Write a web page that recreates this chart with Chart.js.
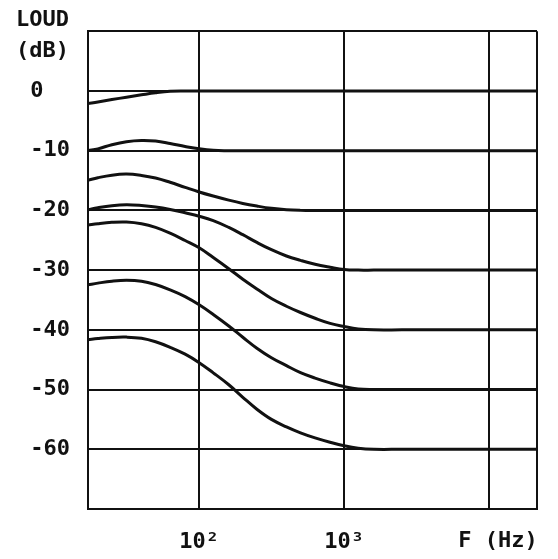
<!DOCTYPE html>
<html>
<head>
<meta charset="utf-8">
<script src="https://cdn.jsdelivr.net/npm/chart.js@4.4.1/dist/chart.umd.min.js"></script>
<style>
html,body{margin:0;padding:0;background:#fff;}
#wrap{width:558px;height:559px;position:relative;}
</style>
</head>
<body>
<div id="wrap"><canvas id="c"></canvas></div>
<script>
// ---- data: frequency (Hz) and loudness (dB) of each curve ----
const FREQ = [17.1, 20, 25, 31.5, 40, 50, 63, 80, 100, 125, 160, 200, 250, 315, 400, 500, 630, 800, 1000, 1250, 1600, 2500, 5000, 10000, 21400];

const L0 = [-2.1, -1.85, -1.45, -1.05, -0.65, -0.3, -0.05, 0, 0, 0, 0, 0, 0, 0, 0, 0, 0, 0, 0, 0, 0, 0, 0, 0, 0];
const L1 = [-10.0, -9.7, -9.0, -8.5, -8.3, -8.4, -8.8, -9.3, -9.7, -9.95, -10, -10, -10, -10, -10, -10, -10, -10, -10, -10, -10, -10, -10, -10, -10];
const L2 = [-14.96, -14.53, -14.1, -13.93, -14.15, -14.58, -15.3, -16.15, -16.92, -17.6, -18.29, -18.84, -19.28, -19.66, -19.91, -20, -20, -20, -20, -20, -20, -20, -20, -20, -20];
const L3 = [-19.9, -19.56, -19.22, -19.07, -19.19, -19.43, -19.84, -20.41, -20.98, -21.71, -22.85, -24.07, -25.37, -26.59, -27.64, -28.37, -29.02, -29.51, -29.89, -30, -30, -30, -30, -30, -30];
const L4 = [-22.47, -22.23, -22.0, -21.95, -22.24, -22.85, -23.82, -25.04, -26.26, -27.89, -29.76, -31.53, -33.15, -34.76, -36.05, -37.1, -38.06, -38.92, -39.44, -39.84, -40, -40, -40, -40, -40];
const L5 = [-32.47, -32.18, -31.85, -31.69, -31.85, -32.42, -33.31, -34.44, -35.81, -37.42, -39.35, -41.25, -43.08, -44.67, -46.0, -47.17, -48.08, -48.88, -49.5, -49.92, -50, -50, -50, -50, -50];
const L6 = [-41.67, -41.47, -41.27, -41.22, -41.42, -42.0, -42.92, -44.08, -45.5, -47.2, -49.2, -51.3, -53.3, -55.0, -56.25, -57.25, -58.1, -58.83, -59.42, -59.83, -60, -60, -60, -60, -60];

const xTickValues = [17.1, 100, 1000, 10000, 21400];
const xTickLabels = ['', '10\u00B2', '10\u00B3', '', ''];
const yTickValues = [10, 0, -10, -20, -30, -40, -50, -60, -70];
const yTickLabels = ['', '0  ', '-10', '-20', '-30', '-40', '-50', '-60', ''];

const series = [L0, L1, L2, L3, L4, L5, L6];

const INK = '#111';
const FONT = 'bold 22px "DejaVu Sans Mono"';

const textPlugin = {
  id: 'texts',
  afterDraw(chart) {
    const ctx = chart.ctx;
    ctx.save();
    ctx.fillStyle = INK;
    ctx.font = FONT;
    ctx.textBaseline = 'middle';
    ctx.textAlign = 'left';
    ctx.fillText('LOUD', 16, 20);
    ctx.fillText('(dB)', 16, 51);
    ctx.textAlign = 'center';
    ctx.fillText('F (Hz)', 498, 541);
    ctx.restore();
  }
};

new Chart(document.getElementById('c'), {
  type: 'line',
  data: {
    datasets: series.map(l => ({
      data: FREQ.map((f, i) => ({x: f, y: l[i]})),
      borderColor: INK,
      borderWidth: 3,
      pointRadius: 0,
      fill: false,
      tension: 0.4
    }))
  },
  options: {
    responsive: true,
    maintainAspectRatio: false,
    animation: false,
    devicePixelRatio: 1,
    layout: {padding: {left: 0, top: 29, right: 21, bottom: 0}},
    plugins: {legend: {display: false}, tooltip: {enabled: false}},
    scales: {
      x: {
        type: 'logarithmic',
        min: xTickValues[0],
        max: xTickValues[xTickValues.length - 1],
        afterBuildTicks(s) { s.ticks = xTickValues.map(v => ({value: v})); },
        afterFit(s) { s.height = 50; },
        ticks: {
          autoSkip: false, maxRotation: 0, padding: 20,
          color: INK, font: {family: 'DejaVu Sans Mono', size: 22, weight: 'bold'},
          callback(v, i) { return xTickLabels[i]; }
        },
        grid: {color: INK, lineWidth: 2, drawTicks: false},
        border: {display: true, color: INK, width: 2}
      },
      y: {
        type: 'linear',
        min: -70, max: 10,
        afterBuildTicks(s) { s.ticks = yTickValues.slice().reverse().map(v => ({value: v})); },
        afterFit(s) { s.width = 88; },
        ticks: {
          autoSkip: false, padding: 18,
          color: INK, font: {family: 'DejaVu Sans Mono', size: 22, weight: 'bold'},
          callback(v) { return yTickLabels[yTickValues.indexOf(v)]; }
        },
        grid: {color: INK, lineWidth: 2, drawTicks: false},
        border: {display: true, color: INK, width: 2}
      }
    }
  },
  plugins: [textPlugin]
});
</script>
</body>
</html>
